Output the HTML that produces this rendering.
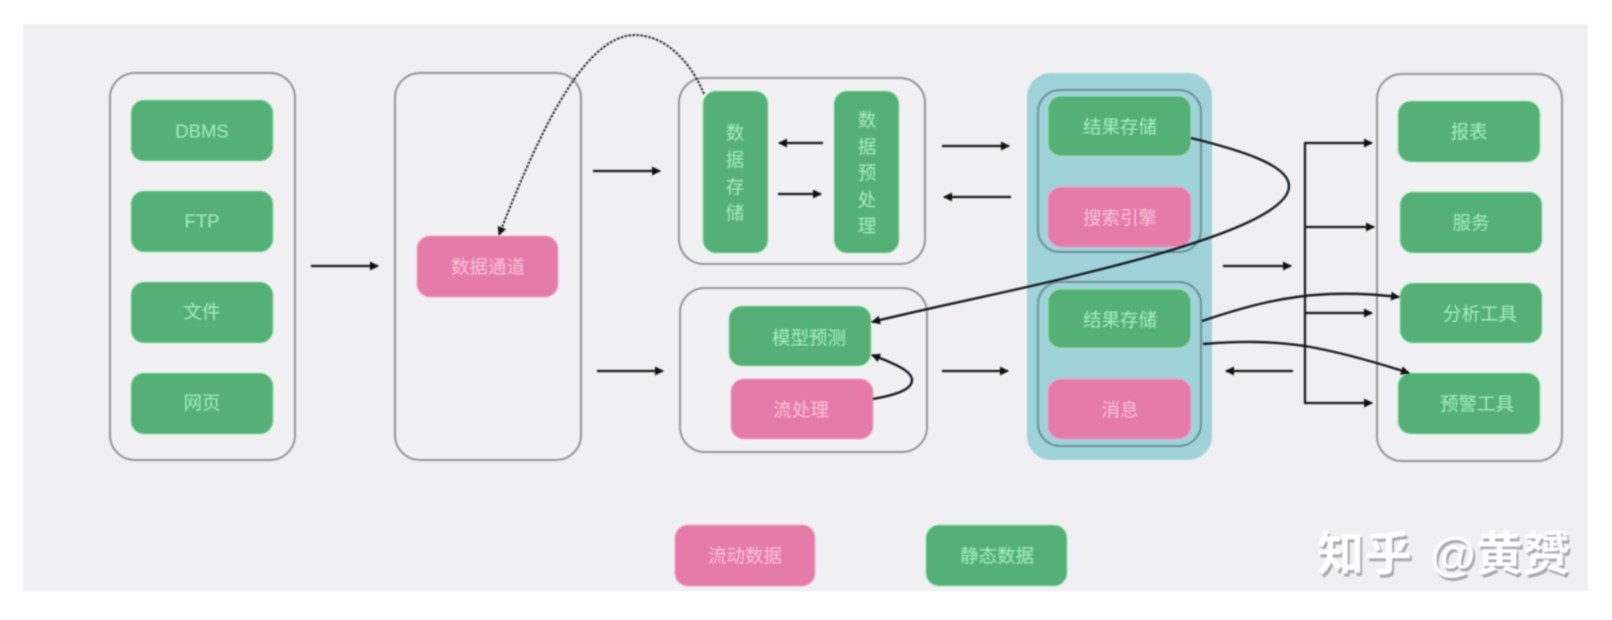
<!DOCTYPE html>
<html lang="zh-CN">
<head>
<meta charset="utf-8">
<title>数据架构图</title>
<style>
html,body{margin:0;padding:0;background:#fff;width:1612px;height:620px;overflow:hidden}
svg{display:block;filter:blur(.8px)}
text{font-family:"Liberation Sans","Noto Sans CJK SC",sans-serif;font-size:18.5px;text-anchor:middle;dominant-baseline:central;transform:translateY(1px)}
.g{fill:#55b077;stroke:#9fe3b4;stroke-width:1}
.p{fill:#e57ba9;stroke:#f3a9c8;stroke-width:1}
.box{fill:#f1f1f3;stroke:#949496;stroke-width:2}
.tg{fill:#a6efbd}
.tp{fill:#f8c3da}
.ln{fill:none;stroke:#141414;stroke-width:2.2}
.cv{fill:none;stroke:#141a1f;stroke-width:2.4}
.in{fill:none;stroke:#6d8f99;stroke-width:2}
</style>
</head>
<body>
<svg width="1612" height="620" viewBox="0 0 1612 620" xmlns="http://www.w3.org/2000/svg">
<defs>
<marker id="a" markerUnits="userSpaceOnUse" markerWidth="10" markerHeight="10" refX="8" refY="5" orient="auto"><path d="M0,0.5 L9,5 L0,9.5 Z" fill="#111"/></marker>
</defs>
<rect x="23" y="24" width="1565" height="567" fill="#f0f0f2"/>

<!-- outer boxes -->
<rect class="box" x="110" y="73" width="185" height="387" rx="25"/>
<rect class="box" x="395" y="73" width="186" height="387" rx="25"/>
<rect class="box" x="679" y="78" width="246" height="186" rx="25"/>
<rect class="box" x="680" y="288" width="247" height="164" rx="25"/>
<rect class="box" x="1377" y="74" width="185" height="387" rx="25"/>

<!-- teal group -->
<rect x="1027" y="73" width="185" height="387" rx="24" fill="#a0d3d9"/>
<rect class="in" x="1038" y="90" width="163" height="162" rx="22"/>
<rect class="in" x="1038" y="282" width="163" height="164" rx="22"/>

<!-- left column -->
<rect class="g" x="131" y="100" width="142" height="61" rx="13"/><text class="tg" x="202" y="130">DBMS</text>
<rect class="g" x="131" y="191" width="142" height="61" rx="13"/><text class="tg" x="202" y="220">FTP</text>
<rect class="g" x="131" y="282" width="142" height="61" rx="13"/><text class="tg" x="202" y="311">文件</text>
<rect class="g" x="131" y="373" width="142" height="61" rx="13"/><text class="tg" x="202" y="402">网页</text>

<!-- channel -->
<rect class="p" x="417" y="236" width="141" height="61" rx="13"/><text class="tp" x="488" y="266">数据通道</text>

<!-- storage / preprocess -->
<rect class="g" x="703" y="91" width="65" height="162" rx="13"/>
<text class="tg" x="735" y="132">数</text><text class="tg" x="735" y="159">据</text><text class="tg" x="735" y="186">存</text><text class="tg" x="735" y="212">储</text>
<rect class="g" x="834" y="91" width="65" height="162" rx="13"/>
<text class="tg" x="867" y="119">数</text><text class="tg" x="867" y="146">据</text><text class="tg" x="867" y="172">预</text><text class="tg" x="867" y="199">处</text><text class="tg" x="867" y="225">理</text>

<!-- stream -->
<rect class="g" x="729" y="306" width="142" height="60" rx="13"/><text class="tg" x="809" y="337">模型预测</text>
<rect class="p" x="731" y="379" width="142" height="60" rx="13"/><text class="tp" x="801" y="409">流处理</text>

<!-- result stores -->
<rect class="g" x="1048" y="96" width="143" height="60" rx="13"/><text class="tg" x="1120" y="126">结果存储</text>
<rect class="p" x="1048" y="187" width="143" height="60" rx="13"/><text class="tp" x="1120" y="217">搜索引擎</text>
<rect class="g" x="1048" y="289" width="143" height="59" rx="13"/><text class="tg" x="1120" y="319">结果存储</text>
<rect class="p" x="1048" y="379" width="143" height="60" rx="13"/><text class="tp" x="1120" y="409">消息</text>

<!-- right column -->
<rect class="g" x="1398" y="101" width="142" height="61" rx="13"/><text class="tg" x="1469" y="131">报表</text>
<rect class="g" x="1400" y="192" width="142" height="61" rx="13"/><text class="tg" x="1471" y="222">服务</text>
<rect class="g" x="1400" y="283" width="142" height="60" rx="13"/><text class="tg" x="1480" y="313">分析工具</text>
<rect class="g" x="1398" y="373" width="142" height="61" rx="13"/><text class="tg" x="1477" y="403">预警工具</text>

<!-- legend -->
<rect class="p" x="675" y="525" width="140" height="61" rx="13"/><text class="tp" x="745" y="555">流动数据</text>
<rect class="g" x="926" y="525" width="141" height="61" rx="13"/><text class="tg" x="997" y="555">静态数据</text>

<!-- straight arrows -->
<path class="ln" marker-end="url(#a)" d="M311,266H378"/>
<path class="ln" marker-end="url(#a)" d="M593,171H660"/>
<path class="ln" marker-end="url(#a)" d="M597,371H663"/>
<path class="ln" marker-end="url(#a)" d="M823,143H779"/>
<path class="ln" marker-end="url(#a)" d="M778,194H821"/>
<path class="ln" marker-end="url(#a)" d="M942,146H1009"/>
<path class="ln" marker-end="url(#a)" d="M1011,197H944"/>
<path class="ln" marker-end="url(#a)" d="M942,371H1008"/>
<path class="ln" marker-end="url(#a)" d="M1223,266H1291"/>
<path class="ln" marker-end="url(#a)" d="M1293,371H1226"/>
<path class="ln" d="M1305,143V403"/>
<path class="ln" marker-end="url(#a)" d="M1304,143H1372"/>
<path class="ln" marker-end="url(#a)" d="M1305,227H1374"/>
<path class="ln" marker-end="url(#a)" d="M1305,313H1372"/>
<path class="ln" marker-end="url(#a)" d="M1304,403H1372"/>

<!-- curves -->
<path class="cv" marker-end="url(#a)" d="M1191,138 C1240,150 1289,165 1289,186 C1289,215 1200,245 1090,272 C1020,290 940,305 872,322"/>
<path class="cv" marker-end="url(#a)" d="M873,399 C895,395 912,390 912,380 C912,370 890,362 872,355"/>
<path class="cv" marker-end="url(#a)" d="M1202,321 C1250,305 1285,296 1330,294 C1360,293 1380,295 1399,297"/>
<path class="cv" marker-end="url(#a)" d="M1203,344 C1240,341 1270,341 1305,346 C1340,352 1375,362 1409,373"/>
<path fill="none" stroke="#222" stroke-width="2" stroke-dasharray="2.5 1.5" marker-end="url(#a)" d="M704,94 C690,60 665,36 636,35 C585,34 540,130 499,235"/>

<!-- watermark -->
<g style="font-weight:700">
<text x="1367" y="556" style="font-size:47px;fill:#a9a9ac;letter-spacing:1px">知乎</text>
<text x="1365" y="553" style="font-size:47px;fill:#fff;letter-spacing:1px">知乎</text>
<text x="1502" y="556" style="font-size:47px;fill:#a9a9ac">@黄赟</text>
<text x="1500" y="553" style="font-size:47px;fill:#fff">@黄赟</text>
</g>
</svg>
</body>
</html>
